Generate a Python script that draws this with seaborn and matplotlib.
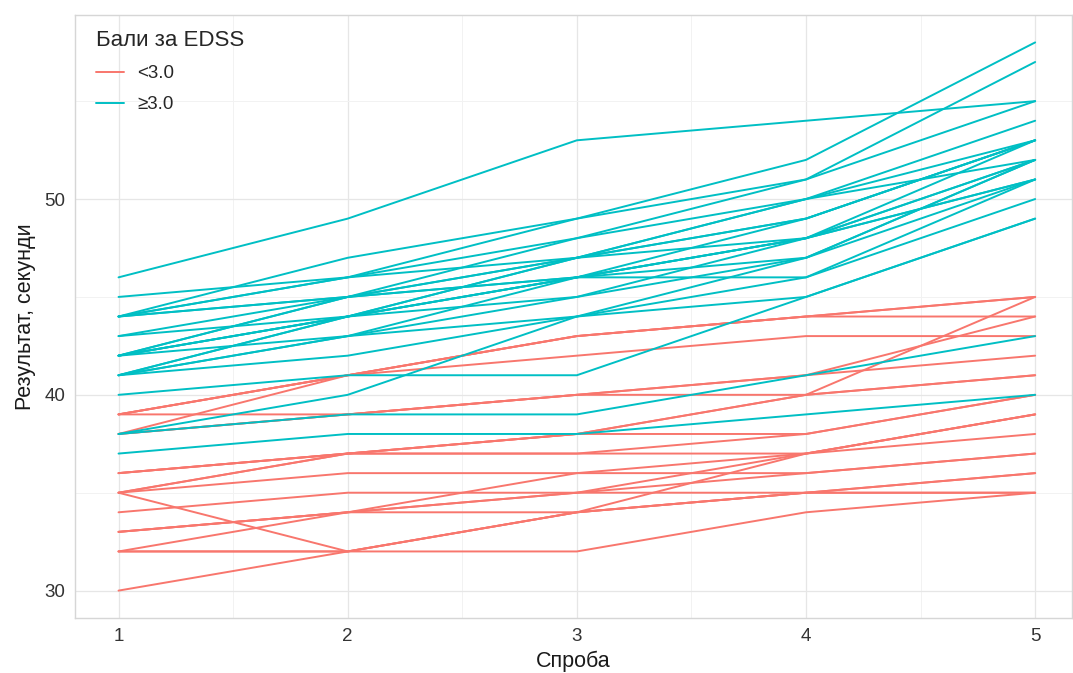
import matplotlib
matplotlib.use("Agg")
import matplotlib.pyplot as plt
import seaborn as sns
import pandas as pd
from matplotlib.ticker import MultipleLocator

trials = [1, 2, 3, 4, 5]
groups = ["<3.0", "≥3.0"]

red_series = [
    [39, 41, 43, 44, 45],
    [39, 41, 43, 44, 45],
    [38, 41, 43, 44, 44],
    [39, 41, 42, 43, 43],
    [39, 39, 40, 41, 44],
    [38, 39, 40, 41, 42],
    [38, 39, 40, 40, 41],
    [36, 37, 38, 40, 45],
    [36, 37, 38, 40, 41],
    [36, 37, 38, 38, 40],
    [35, 37, 37, 38, 40],
    [35, 37, 37, 37, 39],
    [35, 36, 36, 37, 38],
    [35, 32, 34, 37, 39],
    [34, 35, 35, 37, 39],
    [33, 34, 36, 36, 37],
    [33, 34, 35, 36, 37],
    [33, 34, 35, 35, 36],
    [32, 32, 34, 35, 36],
    [32, 32, 32, 34, 35],
    [32, 34, 34, 35, 35],
    [30, 32, 34, 35, 35],
]

teal_series = [
    [46, 49, 53, 54, 55],
    [45, 46, 49, 52, 58],
    [44, 47, 49, 51, 57],
    [44, 46, 48, 51, 55],
    [44, 45, 47, 50, 54],
    [44, 46, 47, 49, 53],
    [43, 45, 48, 50, 53],
    [43, 44, 47, 50, 52],
    [42, 45, 47, 49, 53],
    [42, 44, 46, 49, 53],
    [42, 44, 46, 48, 52],
    [42, 44, 47, 48, 53],
    [42, 45, 46, 48, 51],
    [41, 44, 45, 48, 52],
    [41, 44, 46, 47, 52],
    [41, 43, 45, 47, 52],
    [41, 43, 46, 48, 51],
    [41, 42, 44, 47, 51],
    [44, 45, 46, 46, 51],
    [42, 43, 44, 46, 50],
    [40, 41, 41, 45, 49],
    [38, 40, 44, 45, 49],
    [38, 39, 39, 41, 43],
    [37, 38, 38, 39, 40],
]

rows = []
sid = 0
for grp, series in zip(groups, [red_series, teal_series]):
    for s in series:
        sid += 1
        for t, v in zip(trials, s):
            rows.append({"subject": sid, "trial": t, "value": v, "group": grp})
df = pd.DataFrame(rows)

sns.set_theme(style="white")
plt.rcParams['font.family'] = ['Liberation Sans', 'DejaVu Sans']

fig = plt.figure(figsize=(10.73, 6.73), dpi=100)
ax = fig.add_axes([0.0699, 0.0817, 0.929, 0.896])

palette = {"<3.0": "#F8766D", "≥3.0": "#00BFC4"}
sns.lineplot(data=df, x="trial", y="value", hue="group", units="subject",
             estimator=None, palette=palette, hue_order=groups,
             linewidth=1.4, ax=ax, sort=False)

ax.set_xlim(0.81, 5.16)
ax.set_ylim(28.6, 59.4)
ax.xaxis.set_major_locator(MultipleLocator(1))
ax.xaxis.set_minor_locator(MultipleLocator(0.5))
ax.yaxis.set_major_locator(MultipleLocator(10))
ax.yaxis.set_minor_locator(MultipleLocator(5))
ax.grid(which="major", color="#E6E6E6", linewidth=0.9)
ax.grid(which="minor", color="#F2F2F2", linewidth=0.7)
ax.set_axisbelow(True)
for sp in ax.spines.values():
    sp.set_color("#D6D6D6")
    sp.set_linewidth(1.0)
ax.tick_params(axis="both", which="major", labelsize=13.5, labelcolor="#333333",
               length=4, color="#D0D0D0", pad=3)
ax.tick_params(which="minor", length=0)
ax.set_xlabel("Спроба", fontsize=15.5, color="#1a1a1a", labelpad=4)
ax.set_ylabel("Результат, секунди", fontsize=15.5, color="#1a1a1a", labelpad=6)

leg = ax.legend(title="Бали за EDSS", loc="upper left", bbox_to_anchor=(0.004, 1.003),
                frameon=False, fontsize=13.5, title_fontsize=16,
                handlelength=1.5, labelspacing=0.75, handletextpad=0.7)
leg._legend_box.align = "left"
for line in leg.get_lines():
    line.set_linewidth(1.4)

fig.savefig("out.png", dpi=100)
